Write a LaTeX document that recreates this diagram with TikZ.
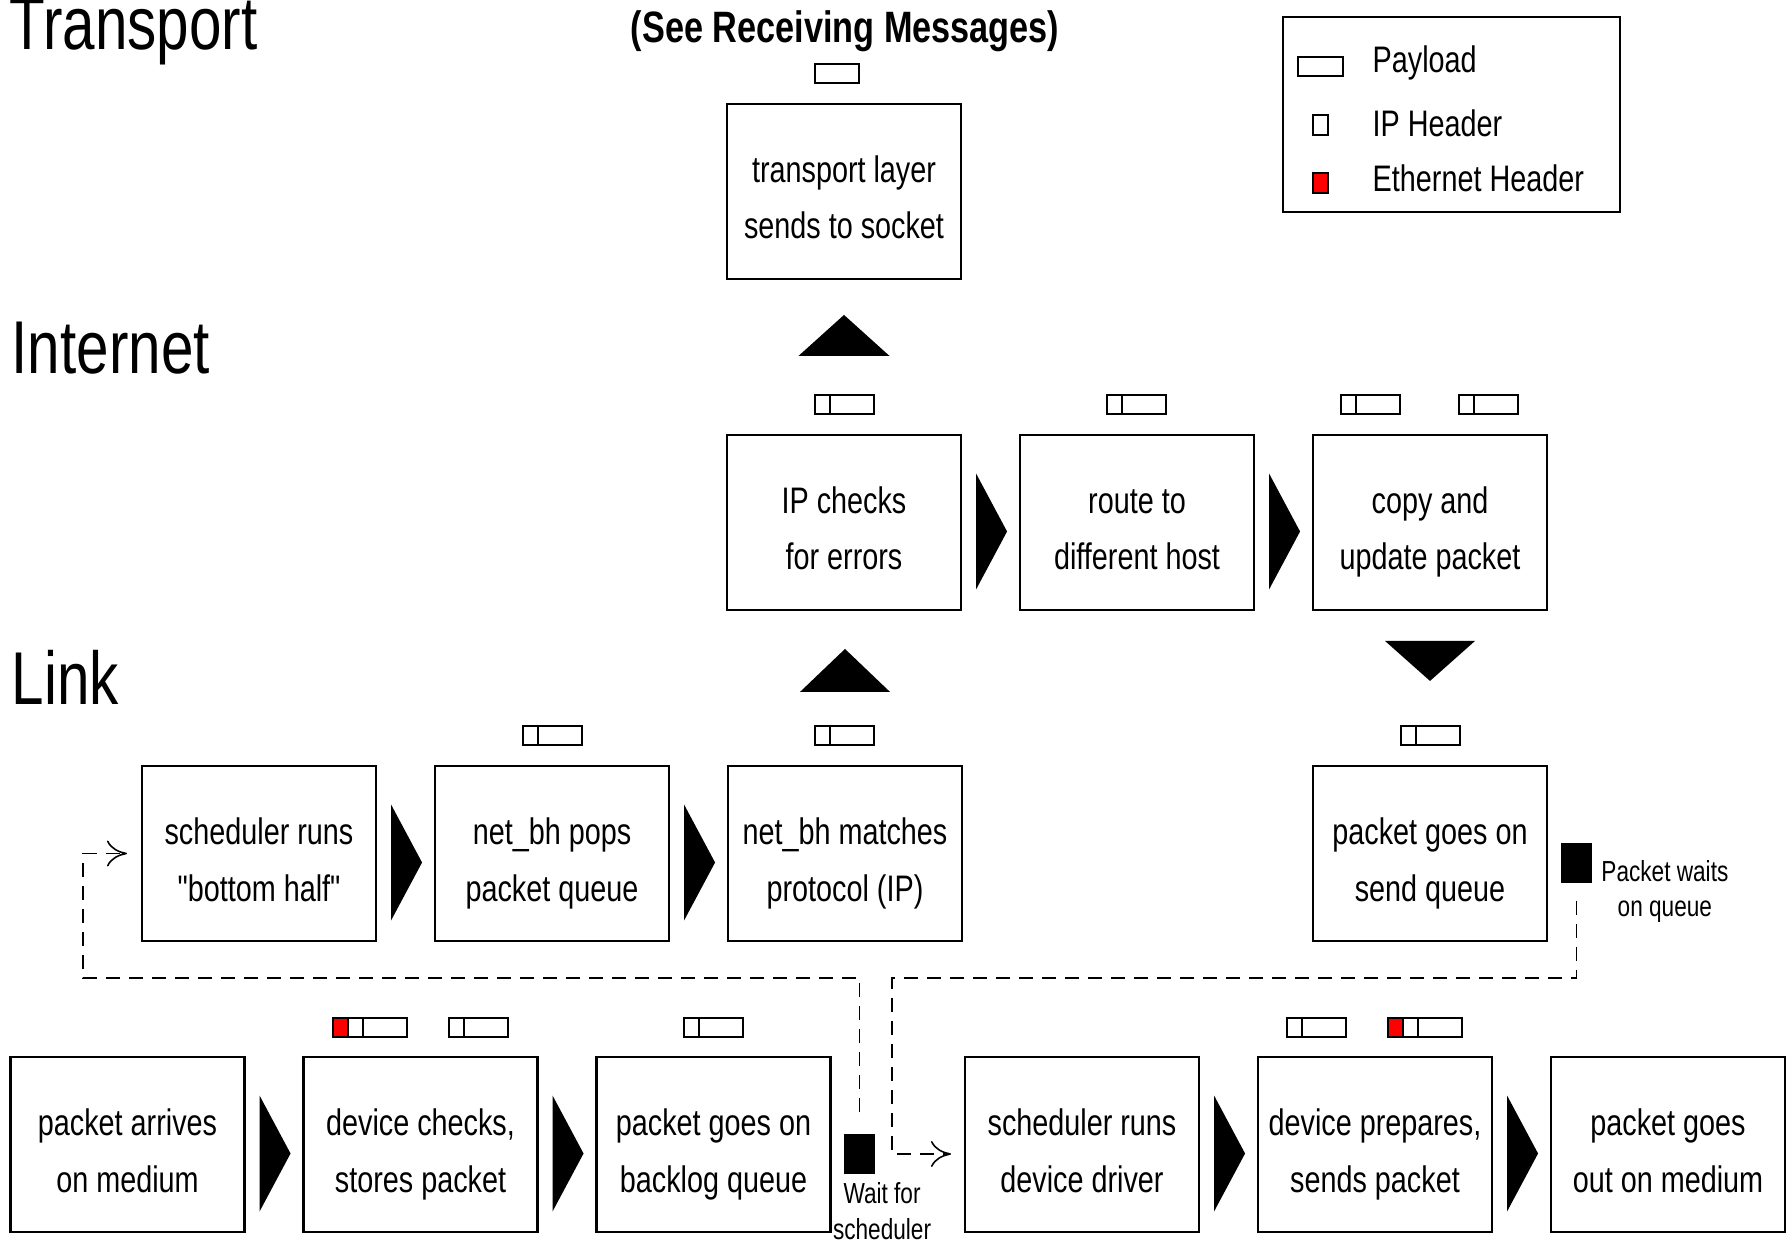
\documentclass[tikz,border=0pt]{standalone}
\usepackage{fontspec}
\setmainfont[FakeStretch=0.78, Ligatures=TeXOff]{Liberation Sans}
\usepackage{tikz}
\usetikzlibrary {positioning, arrows.meta}

\begin{document}
\begin{tikzpicture}[
			stage/.style={draw, line width=0.6pt, minimum width=2.34cm, minimum height=1.75cm, inner sep=0pt, align=center, text height=1cm, text depth=0.05cm, font=\fontsize{10.5}{16.2}\selectfont},
			layer/.style={anchor=base west, inner sep=0pt, font=\fontsize{21.3}{25}\selectfont},
			key/.style={anchor=base west, inner sep=0pt, font=\fontsize{10.5}{12}\selectfont},
			note/.style={inner sep=0pt, align=center, font=\fontsize{8.25}{10.2}\selectfont},
			waitsq/.style={fill=black, minimum width=0.31cm, minimum height=0.4cm, inner sep=0pt},
			pk/.style={line width=0.6pt},
			waitline/.style={->, >={To[length=2mm, width=2.6mm]}, line width=0.45pt, dash pattern=on 1.4mm off 0.9mm},
			node distance=2.93cm]
			\useasboundingbox (0, 0) rectangle (17.9, 12.41);
			
			% layers
			\node (19) [layer] at (0.09, 11.91) {Transport};
			\node (20) [layer] at (0.11, 8.67) {Internet};
			\node (21) [layer] at (0.11, 5.36) {Link};
			\node (22) [anchor=base, inner sep=0pt, font=\bfseries\fontsize{12.5}{15}\selectfont] at (8.45, 11.98) {(See Receiving Messages)};
			
			% device row
			\node (1) [stage] at (1.275, 0.965) {packet arrives\\on medium};
			\node (2) [stage, right of=1] {device checks,\\stores packet};
			\node (3) [stage, right of=2] {packet goes on\\backlog queue};
			\node (4) [stage] at (10.82, 0.965) {scheduler runs\\device driver};
			\node (5) [stage, right of=4] {device prepares,\\sends packet};
			\node (6) [stage, right of=5] {packet goes\\out on medium};
			
			% link row
			\node (7) [stage] at (2.59, 3.875) {scheduler runs\\"bottom half"};
			\node (8) [stage, right of=7] {net\_bh pops\\packet queue};
			\node (9) [stage, right of=8] {net\_bh matches\\protocol (IP)};
			\node (10) [stage] at (14.30, 3.875) {packet goes on\\send queue};
			
			% internet row
			\node (11) [stage] at (8.44, 7.185) {IP checks\\for errors};
			\node (12) [stage, right of=11] {route to\\different host};
			\node (13) [stage, right of=12] {copy and\\update packet};
			
			% transport
			\node (14) [stage] at (8.44, 10.495) {transport layer\\sends to socket};
			
			% flow
			\fill ([xshift=1.4mm, yshift=4.9mm]1.east) -- ++(0, -11.6mm) -- ++(3.1mm, 5.8mm) -- cycle;
			\fill ([xshift=1.4mm, yshift=4.9mm]2.east) -- ++(0, -11.6mm) -- ++(3.1mm, 5.8mm) -- cycle;
			\fill ([xshift=1.4mm, yshift=4.9mm]4.east) -- ++(0, -11.6mm) -- ++(3.1mm, 5.8mm) -- cycle;
			\fill ([xshift=1.4mm, yshift=4.9mm]5.east) -- ++(0, -11.6mm) -- ++(3.1mm, 5.8mm) -- cycle;
			\fill ([xshift=1.4mm, yshift=4.9mm]7.east) -- ++(0, -11.6mm) -- ++(3.1mm, 5.8mm) -- cycle;
			\fill ([xshift=1.4mm, yshift=4.9mm]8.east) -- ++(0, -11.6mm) -- ++(3.1mm, 5.8mm) -- cycle;
			\fill ([xshift=1.4mm, yshift=4.9mm]11.east) -- ++(0, -11.6mm) -- ++(3.1mm, 5.8mm) -- cycle;
			\fill ([xshift=1.4mm, yshift=4.9mm]12.east) -- ++(0, -11.6mm) -- ++(3.1mm, 5.8mm) -- cycle;
			
			\fill ([xshift=-4.5mm, yshift=7.3mm]9.north) -- ++(9mm, 0) -- ++(-4.5mm, 4.3mm) -- cycle;
			\fill ([xshift=-4.55mm, yshift=7.8mm]11.north) -- ++(9.1mm, 0) -- ++(-4.55mm, 4.1mm) -- cycle;
			\fill ([xshift=-4.5mm, yshift=12.4mm]10.north) -- ++(9mm, 0) -- ++(-4.5mm, -4mm) -- cycle;
			
			% packets
			\draw[pk] (8.15, 11.58) rectangle ++(0.44, 0.19);
			
			\draw[pk] (8.15, 8.27) rectangle ++(0.59, 0.19) (8.30, 8.27) -- ++(0, 0.19);
			\draw[pk] (11.07, 8.27) rectangle ++(0.59, 0.19) (11.22, 8.27) -- ++(0, 0.19);
			\draw[pk] (13.41, 8.27) rectangle ++(0.59, 0.19) (13.56, 8.27) -- ++(0, 0.19);
			\draw[pk] (14.59, 8.27) rectangle ++(0.59, 0.19) (14.74, 8.27) -- ++(0, 0.19);
			
			\draw[pk] (5.23, 4.96) rectangle ++(0.59, 0.19) (5.38, 4.96) -- ++(0, 0.19);
			\draw[pk] (8.15, 4.96) rectangle ++(0.59, 0.19) (8.30, 4.96) -- ++(0, 0.19);
			\draw[pk] (14.01, 4.96) rectangle ++(0.59, 0.19) (14.16, 4.96) -- ++(0, 0.19);
			
			\fill[red] (3.33, 2.04) rectangle ++(0.15, 0.19);
			\draw[pk] (3.33, 2.04) rectangle ++(0.74, 0.19) (3.48, 2.04) -- ++(0, 0.19) (3.63, 2.04) -- ++(0, 0.19);
			\draw[pk] (4.49, 2.04) rectangle ++(0.59, 0.19) (4.64, 2.04) -- ++(0, 0.19);
			\draw[pk] (6.84, 2.04) rectangle ++(0.59, 0.19) (6.99, 2.04) -- ++(0, 0.19);
			\draw[pk] (12.87, 2.04) rectangle ++(0.59, 0.19) (13.02, 2.04) -- ++(0, 0.19);
			\fill[red] (13.88, 2.04) rectangle ++(0.15, 0.19);
			\draw[pk] (13.88, 2.04) rectangle ++(0.74, 0.19) (14.03, 2.04) -- ++(0, 0.19) (14.18, 2.04) -- ++(0, 0.19);
			
			% waiting
			\node (15) [waitsq] at (8.595, 0.87) {};
			\node (17) [note, below right=0.07cm and -0.11cm of 15.south west] {Wait for\\scheduler};
			\node (16) [waitsq] at (15.765, 3.78) {};
			\node (18) [note, below right=0.17cm and 0.08cm of 16.north east] {Packet waits\\on queue};
			
			\draw[waitline] ([yshift=2.1mm]15.north) |- (0.83, 2.63) |- ([xshift=-1.4mm]7.west);
			\draw[waitline] ([yshift=-1.7mm]16.south) |- (8.92, 2.63) |- ([xshift=-1.3mm, yshift=-0.95mm]4.west);
			
			% legend
			\draw[pk] (12.83, 10.29) rectangle (16.20, 12.24);
			\draw[pk] (12.98, 11.65) rectangle (13.43, 11.84);
			\draw[pk] (13.13, 11.06) rectangle (13.28, 11.26);
			\draw[pk, fill=red] (13.13, 10.48) rectangle (13.28, 10.68);
			\node (23) [key] at (13.72, 11.68) {Payload};
			\node (24) [key] at (13.72, 11.04) {IP Header};
			\node (25) [key] at (13.72, 10.49) {Ethernet Header};
		\end{tikzpicture}
\end{document}
